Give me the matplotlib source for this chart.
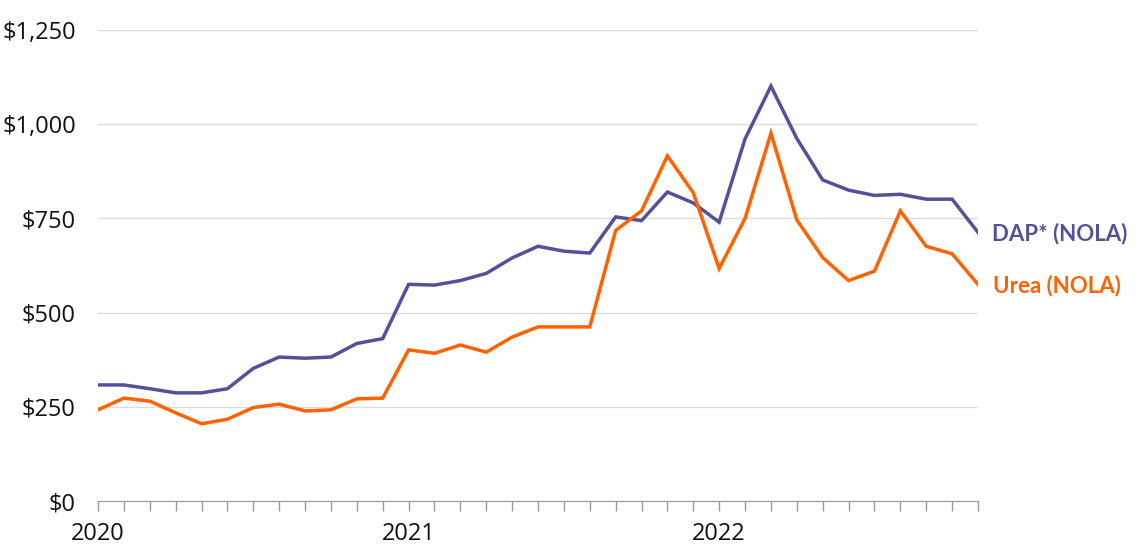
import matplotlib.pyplot as plt
import numpy as np

# monthly prices, Jan 2020 - Nov 2022 ($/t)
dap = [308, 308, 298, 287, 287, 298, 352, 382, 379, 382, 418, 431,
       575, 573, 585, 604, 645, 676, 663, 658, 754, 744, 820, 791,
       740, 961, 1101, 962, 852, 825, 811, 814, 801, 801, 713]
urea = [242, 273, 265, 234, 205, 217, 248, 257, 239, 242, 271, 273,
        401, 392, 414, 395, 435, 462, 462, 462, 718, 770, 916, 818,
        617, 750, 976, 746, 646, 585, 610, 770, 676, 656, 575]
year_labels = ['2020', '2021', '2022']
yticks = [0, 250, 500, 750, 1000, 1250]

purple = '#525199'
orange = '#FF6200'

months = np.arange(len(dap))

fig = plt.figure(figsize=(11.47, 5.54), dpi=100)
ax = fig.add_axes([98 / 1147, 1 - 501 / 554, 880 / 1147, 471 / 554])

ax.plot(months, dap, color=purple, lw=2.5, solid_joinstyle='miter', zorder=3)
ax.plot(months, urea, color=orange, lw=2.5, solid_joinstyle='miter', zorder=3)

ax.set_xlim(0, len(dap) - 1)
ax.set_ylim(0, 1250)

ax.set_yticks(yticks)
ax.set_yticklabels([f'${v:,}' for v in yticks])
ax.yaxis.grid(True, color='#dcdcdc', lw=1)
ax.set_axisbelow(True)
ax.tick_params(axis='y', length=0, pad=16, labelsize=17, labelcolor='#111111')

ax.set_xticks([0, 12, 24])
ax.set_xticklabels(year_labels)
ax.set_xticks(months, minor=True)
ax.tick_params(axis='x', which='both', direction='out', length=7, color='#999999',
               width=1, labelsize=17, labelcolor='#111111', pad=8)

for s in ['top', 'right', 'left']:
    ax.spines[s].set_visible(False)
ax.spines['bottom'].set_color('#999999')

for lab in ax.get_xticklabels() + ax.get_yticklabels():
    lab.set_fontfamily('Open Sans')

ax.annotate('DAP* (NOLA)', xy=(months[-1], dap[-1]), xytext=(10, -1),
            textcoords='offset points', color=purple, fontsize=16,
            fontweight='bold', family='Lato', va='center', ha='left',
            annotation_clip=False)
ax.annotate('Urea (NOLA)', xy=(months[-1], urea[-1]), xytext=(11, -1),
            textcoords='offset points', color=orange, fontsize=16,
            fontweight='bold', family='Lato', va='center', ha='left',
            annotation_clip=False)

fig.savefig('out.png', dpi=100)
